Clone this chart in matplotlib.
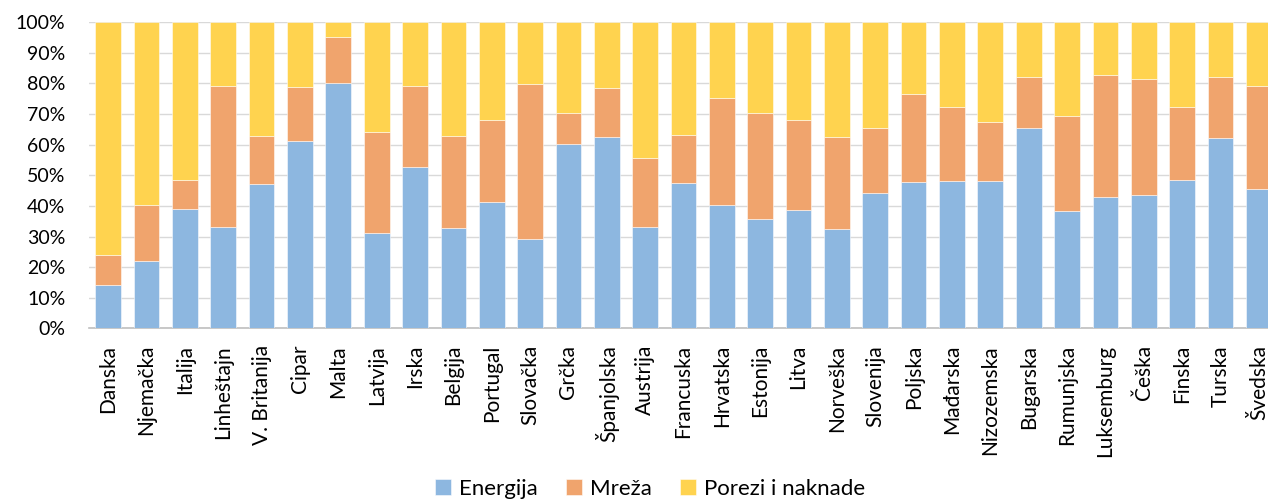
import matplotlib
matplotlib.use("Agg")
import matplotlib.pyplot as plt
from matplotlib.ticker import PercentFormatter, MultipleLocator
import numpy as np

countries = ["Danska", "Njemačka", "Italija", "Linheštajn", "V. Britanija", "Cipar", "Malta",
             "Latvija", "Irska", "Belgija", "Portugal", "Slovačka", "Grčka", "Španjolska",
             "Austrija", "Francuska", "Hrvatska", "Estonija", "Litva", "Norveška", "Slovenija",
             "Poljska", "Mađarska", "Nizozemska", "Bugarska", "Rumunjska", "Luksemburg",
             "Češka", "Finska", "Turska", "Švedska"]

# cumulative top of "Energija" and of "Energija + Mreža" (percent)
energija = [14.1, 22.1, 38.9, 33.0, 47.1, 61.1, 80.2, 31.0, 52.6, 32.8, 41.4, 29.1, 60.2, 62.6,
            33.2, 47.5, 40.3, 35.6, 38.5, 32.4, 44.3, 47.8, 48.3, 48.1, 65.4, 38.2, 43.0,
            43.5, 48.6, 62.1, 45.6]
energija_mreza = [24.1, 40.3, 48.5, 79.2, 63.0, 78.9, 95.2, 64.1, 79.2, 62.7, 68.0, 80.0, 70.3, 78.6,
                  55.6, 63.3, 75.2, 70.2, 68.2, 62.6, 65.6, 76.7, 72.4, 67.3, 82.2, 69.5, 82.8,
                  81.4, 72.4, 82.2, 79.3]

series_names = ["Energija", "Mreža", "Porezi i naknade"]
colors = ["#8DB7E0", "#F0A46D", "#FFD34F"]

energija = np.array(energija)
mreza = np.array(energija_mreza) - energija
porezi = 100 - np.array(energija_mreza)

plt.rcParams['font.family'] = ['Lato', 'DejaVu Sans']

fig = plt.figure(figsize=(12.68, 5.01), dpi=100)
W, H = 1268, 501
left, right = 89, 1278
top, bottom = 22.3, 328.3
ax = fig.add_axes([left / W, 1 - bottom / H, (right - left) / W, (bottom - top) / H])

x = np.arange(len(countries))
bw = 0.67
ec = (1, 1, 1, 0.6)
ax.bar(x, energija, bw, color=colors[0], label=series_names[0], edgecolor=ec, linewidth=0.6, zorder=3)
ax.bar(x, mreza, bw, bottom=energija, color=colors[1], label=series_names[1], edgecolor=ec, linewidth=0.6, zorder=3)
ax.bar(x, porezi, bw, bottom=energija + mreza, color=colors[2], label=series_names[2], edgecolor=ec, linewidth=0.6, zorder=3)

ax.set_xlim(-0.5, len(countries) - 0.5)
ax.set_ylim(0, 100)
ax.yaxis.set_major_locator(MultipleLocator(10))
ax.yaxis.set_major_formatter(PercentFormatter(decimals=0))
ax.grid(axis='y', color='#D9D9D9', linewidth=1.0, zorder=0)
for s in ['top', 'right', 'left']:
    ax.spines[s].set_visible(False)
ax.spines['bottom'].set_color('#BFBFBF')
ax.spines['bottom'].set_linewidth(1.2)
ax.tick_params(axis='both', length=0, colors='black')
ax.tick_params(axis='y', pad=17, labelsize=14)
ax.tick_params(axis='x', pad=12, labelsize=15)
ax.set_xticks(x)
ax.set_xticklabels(countries, rotation=90, va='top', ha='center')

fig.legend(loc='center', bbox_to_anchor=(650 / W, 1 - 489 / H), ncol=3, frameon=False,
           fontsize=16, handlelength=0.7, handleheight=0.7, handletextpad=0.35, columnspacing=1.3,
           borderaxespad=0, borderpad=0)

fig.savefig("out.png", dpi=100)
